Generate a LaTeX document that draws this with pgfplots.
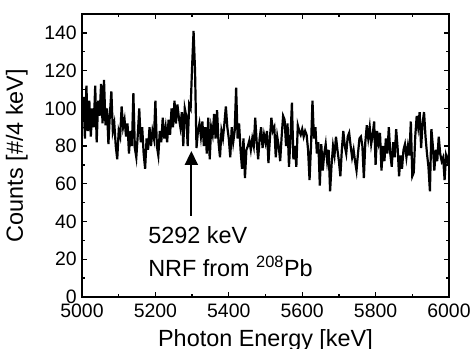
\documentclass[border=0pt]{standalone}
\usepackage{fontspec}
\setmainfont{Liberation Sans}
\usepackage{pgfplots}
\usepackage{pgfplotstable}
\pgfplotsset{compat=1.18}
\usetikzlibrary{arrows.meta}
\pgfplotstableread{
x y
5000 95
5004 106
5008 84
5012 112
5016 88
5020 104
5024 85
5028 100
5032 90
5036 112
5040 82
5044 104
5048 96
5052 113
5056 92
5060 115
5064 91
5068 100
5072 81
5076 97
5080 109
5084 88
5088 92
5092 80
5096 73
5100 88
5104 85
5108 101
5112 90
5116 94
5120 85
5124 92
5128 76
5132 88
5136 80
5140 108
5144 79
5148 74
5152 86
5156 100
5160 82
5164 90
5168 76
5172 68
5176 84
5180 78
5184 90
5188 80
5192 88
5196 84
5200 104
5204 80
5208 75
5212 88
5216 82
5220 95
5224 84
5228 90
5232 82
5236 94
5240 86
5244 100
5248 90
5252 104
5256 92
5260 102
5264 95
5268 90
5272 98
5276 80
5280 100
5284 96
5288 80
5292 102
5296 100
5300 122
5304 141
5308 120
5312 79
5316 88
5320 92
5324 85
5328 93
5332 80
5336 90
5340 76
5344 95
5348 73
5352 90
5356 86
5360 97
5364 84
5368 99
5372 82
5376 74
5380 88
5384 84
5388 92
5392 101
5396 90
5400 84
5404 74
5408 90
5412 82
5416 88
5420 111
5424 84
5428 92
5432 78
5436 68
5440 84
5444 63
5448 78
5452 80
5456 83
5460 78
5464 84
5468 80
5472 95
5476 82
5480 73
5484 84
5488 90
5492 79
5496 86
5500 82
5504 88
5508 71
5512 84
5516 95
5520 88
5524 90
5528 74
5532 85
5536 80
5540 72
5544 85
5548 96
5552 94
5556 80
5560 92
5564 69
5568 84
5572 103
5576 73
5580 80
5584 69
5588 91
5592 88
5596 86
5600 89
5604 85
5608 88
5612 86
5616 78
5620 62
5624 80
5628 104
5632 84
5636 90
5640 76
5644 82
5648 59
5652 81
5656 67
5660 76
5664 81
5668 72
5672 78
5676 56
5680 70
5684 80
5688 75
5692 85
5696 78
5700 72
5704 64
5708 78
5712 88
5716 80
5720 76
5724 85
5728 87
5732 80
5736 74
5740 78
5744 72
5748 67
5752 76
5756 84
5760 85
5764 80
5768 63
5772 82
5776 91
5780 84
5784 90
5788 81
5792 86
5796 93
5800 70
5804 88
5808 82
5812 87
5816 67
5820 80
5824 72
5828 84
5832 76
5836 90
5840 76
5844 69
5848 82
5852 74
5856 89
5860 79
5864 64
5868 75
5872 68
5876 78
5880 81
5884 74
5888 80
5892 75
5896 93
5900 64
5904 66
5908 85
5912 96
5916 90
5920 98
5924 79
5928 92
5932 98
5936 85
5940 76
5944 69
5948 56
5952 89
5956 80
5960 67
5964 78
5968 72
5972 85
5976 76
5980 72
5984 74
5988 62
5992 75
5996 72
6000 76
}\spectrum

\begin{document}
\begin{tikzpicture}
\begin{axis}[
  scale only axis, width=367bp, height=283bp,
  at={(0,0)}, anchor=south west,
  xmin=5000, xmax=6000, ymin=0, ymax=150,
  xtick={5000,5200,...,6000}, ytick={0,20,...,140},
  minor xtick={5100,5300,...,5900}, minor ytick={10,30,...,130},
  tick align=inside, major tick length=5bp, minor tick length=3bp,
  axis line style={line width=1.8bp},
  every tick/.style={line width=1.3bp, black},
  /pgf/number format/assume math mode=true,
  /pgf/number format/1000 sep={},
  tick label style={font=\fontsize{19.5}{20}\selectfont},
  xticklabel style={inner sep=2bp, yshift=-5bp},
  yticklabel style={inner sep=2bp, xshift=-3bp},
  label style={font=\fontsize{23.5}{24}\selectfont},
  xlabel={Photon Energy [keV]},
  ylabel={Counts [\#/4 keV]},
  xlabel style={at={(axis description cs:0.5,-0.1746)}, anchor=base},
  ylabel style={at={(axis description cs:-0.1608,0.5)}, anchor=base, rotate=0},
]
\addplot[black, line width=2.2bp, no marks, line join=miter] table[x=x,y=y] {\spectrum};
\draw[line width=2bp, -{Triangle[width=13bp,length=14bp]}] (axis cs:5298,43) -- (axis cs:5298,77.4);
\node[anchor=base west, font=\fontsize{23.5}{24}\selectfont, inner sep=0pt] at (axis cs:5180,28.5) {5292 keV};
\node[anchor=base west, font=\fontsize{23.5}{24}\selectfont, inner sep=0pt] at (axis cs:5180,10.9) {NRF from \textsuperscript{208}Pb};
\end{axis}
\pgfresetboundingbox
\path (-82bp,-52bp) rectangle (391bp,297bp);
\end{tikzpicture}
\end{document}
